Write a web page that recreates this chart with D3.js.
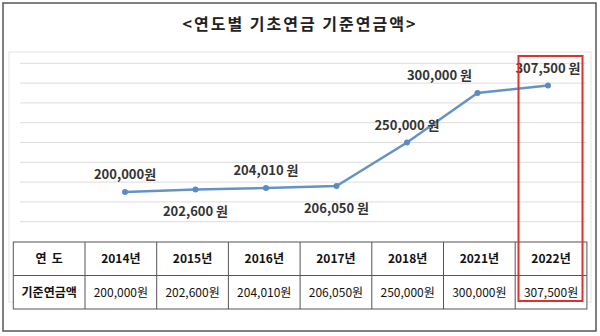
<!DOCTYPE html>
<html>
<head>
<meta charset="utf-8">
<script src="https://cdn.jsdelivr.net/npm/d3@7"></script>
<style>
  html, body { margin: 0; padding: 0; background: #fff; }
  svg { display: block; font-family: "Noto Sans CJK KR", "Noto Sans", sans-serif; }
</style>
</head>
<body>
<svg id="chart" width="600" height="336"></svg>
<script>
// ---- data ----
const title = "<연도별 기초연금 기준연금액>";
const years = ["2014년", "2015년", "2016년", "2017년", "2018년", "2021년", "2022년"];
const amounts = [200000, 202600, 204010, 206050, 250000, 300000, 307500];
const pointLabels = ["200,000원", "202,600 원", "204,010 원", "206,050 원", "250,000 원", "300,000 원", "307,500 원"];
const tableValues = ["200,000원", "202,600원", "204,010원", "206,050원", "250,000원", "300,000원", "307,500원"];
const headerLabel = "연  도";
const rowLabel = "기준연금액";
const gridTicks = [170000, 190000, 210000, 230000, 250000, 270000, 290000, 310000, 330000];

// ---- drawing ----
const svg = d3.select("#chart");

// outer frame
svg.append("rect").attr("x", 3).attr("y", 3).attr("width", 593).attr("height", 328)
  .attr("fill", "#fff").attr("stroke", "#555").attr("stroke-width", 1.5);

// title
svg.append("text").attr("x", 300).attr("y", 30).attr("text-anchor", "middle")
  .attr("font-size", 16).attr("font-weight", "bold").attr("letter-spacing", 2)
  .attr("fill", "#222").text(title);

// inner chart area
svg.append("rect").attr("x", 9).attr("y", 52).attr("width", 582).attr("height", 250)
  .attr("fill", "#fff").attr("stroke", "#e3e3e3").attr("stroke-width", 1);

const x = d3.scalePoint().domain(years).range([125, 548]);
const y = d3.scaleLinear().domain([150000, 350000]).range([241.5, 43.5]);

// gridlines
svg.append("g").selectAll("line").data(gridTicks).join("line")
  .attr("x1", 20).attr("x2", 586)
  .attr("y1", d => y(d)).attr("y2", d => y(d))
  .attr("stroke", "#dcdcdc").attr("stroke-width", 1);

// line
const line = d3.line().x((d, i) => x(years[i])).y(d => y(d));
svg.append("path").datum(amounts).attr("d", line)
  .attr("fill", "none").attr("stroke", "#6593c6").attr("stroke-width", 2.5);

svg.append("g").selectAll("circle").data(amounts).join("circle")
  .attr("cx", (d, i) => x(years[i])).attr("cy", d => y(d)).attr("r", 3)
  .attr("fill", "#5b8bc2");

// data labels
const placement = ["above", "below", "above", "below", "above", "aboveLeft", "above"];
svg.append("g").selectAll("text").data(amounts).join("text")
  .attr("x", (d, i) => x(years[i]) + (placement[i] === "aboveLeft" ? -38 : 0))
  .attr("y", (d, i) => y(d) + (placement[i] === "below" ? 27 : -13))
  .attr("text-anchor", "middle").attr("font-size", 13).attr("font-weight", "bold")
  .attr("fill", "#333")
  .text((d, i) => pointLabels[i]);

// table
const colW = 71.7, tx0 = 13.3, ty0 = 242, rowH = 33.5;
const cols = [headerLabel].concat(years);
const vals = [rowLabel].concat(tableValues);
const tg = svg.append("g");
tg.append("rect").attr("x", tx0).attr("y", ty0).attr("width", colW * cols.length).attr("height", rowH * 2)
  .attr("fill", "#fff").attr("stroke", "#555").attr("stroke-width", 1);
tg.append("line").attr("x1", tx0).attr("x2", tx0 + colW * cols.length)
  .attr("y1", ty0 + rowH).attr("y2", ty0 + rowH).attr("stroke", "#555");
tg.selectAll("line.col").data(d3.range(1, cols.length)).join("line").attr("class", "col")
  .attr("x1", i => tx0 + i * colW).attr("x2", i => tx0 + i * colW)
  .attr("y1", ty0).attr("y2", ty0 + rowH * 2).attr("stroke", "#555");
tg.selectAll("text.h").data(cols).join("text").attr("class", "h")
  .attr("x", (d, i) => tx0 + colW * (i + 0.5)).attr("y", ty0 + rowH / 2 + 4.5)
  .attr("text-anchor", "middle").attr("font-size", 12).attr("font-weight", "bold")
  .attr("fill", "#111").style("white-space", "pre").attr("xml:space", "preserve")
  .text(d => d);
tg.selectAll("text.v").data(vals).join("text").attr("class", "v")
  .attr("x", (d, i) => tx0 + colW * (i + 0.5)).attr("y", ty0 + rowH * 1.5 + 4.5)
  .attr("text-anchor", "middle").attr("font-size", 12)
  .attr("font-weight", (d, i) => i === 0 ? "bold" : "normal")
  .attr("fill", "#111").text(d => d);

// red highlight box
svg.append("rect").attr("x", 518.5).attr("y", 56).attr("width", 64).attr("height", 245)
  .attr("fill", "none").attr("stroke", "#e0302c").attr("stroke-width", 2);
</script>
</body>
</html>
